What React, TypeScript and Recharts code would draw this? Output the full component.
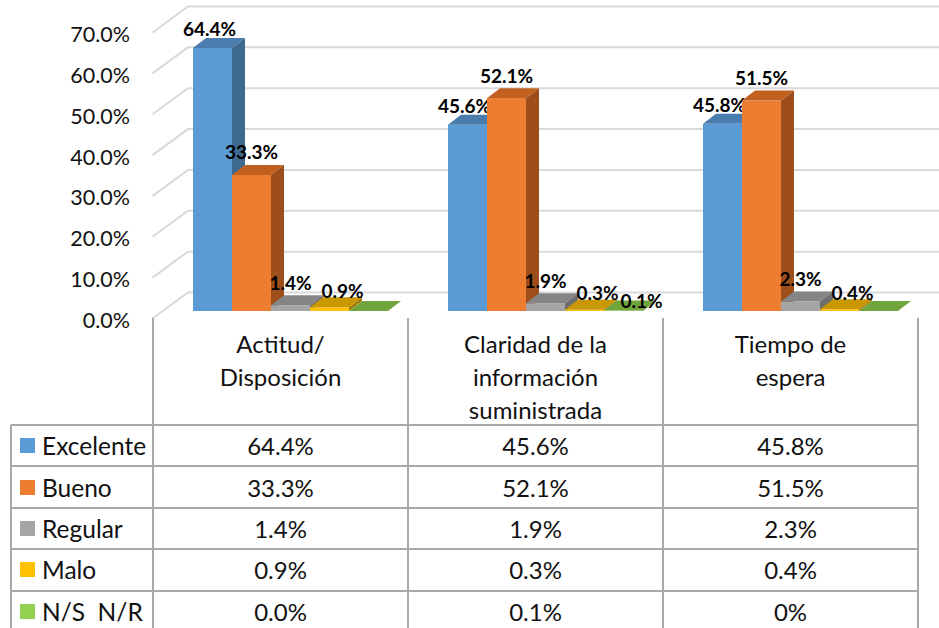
import React from "react";
import { BarChart, Bar, XAxis, YAxis, CartesianGrid } from "recharts";

// categories / series values
const categories = ["Actitud/ Disposición", "Claridad de la información suministrada", "Tiempo de espera"];
const categoryLines = [["Actitud/", "Disposición"], ["Claridad de la", "información", "suministrada"], ["Tiempo de", "espera"]];
const excelente = [0.644, 0.456, 0.458];
const bueno = [0.333, 0.521, 0.515];
const regular = [0.014, 0.019, 0.023];
const malo = [0.009, 0.003, 0.004];
const nsnr = [0.0, 0.001, 0.0];
const nsnrText = ["0.0%", "0.1%", "0%"];
const yTicks = [0, 0.1, 0.2, 0.3, 0.4, 0.5, 0.6, 0.7];

const FONT = "Lato, 'Open Sans', sans-serif";
const DX = 13;
const DY = 10;
const SHIFT = 10;
const ROW_TOP = 425;
const ROW_H = 41.4;

const pct = (v: number) => (v * 100).toFixed(1) + "%";

const series = [
  { key: "exc", name: "Excelente", values: excelente, text: excelente.map(pct), front: "#5B9BD5", top: "#4A7DAE", side: "#3E6990", ldx: -3, ldy: -19 },
  { key: "bue", name: "Bueno", values: bueno, text: bueno.map(pct), front: "#ED7D31", top: "#C2601F", side: "#9E4E1B", ldx: 0, ldy: -23 },
  { key: "reg", name: "Regular", values: regular, text: regular.map(pct), front: "#A5A5A5", top: "#858585", side: "#6E6E6E", ldx: 0, ldy: -23 },
  { key: "mal", name: "Malo", values: malo, text: malo.map(pct), front: "#FFC000", top: "#C99700", side: "#A67C00", ldx: 13, ldy: -17 },
  { key: "nsr", name: "N/S  N/R", values: nsnr, text: nsnrText, front: "#92D050", top: "#70A43C", side: "#5C8A30", ldx: 18, ldy: -10 },
];

const data = categories.map((name, i) => {
  const row: any = { name };
  series.forEach((s) => (row[s.key] = s.values[i]));
  return row;
});

const makeShape = (s: any) => (p: any) => {
  const X = p.x + SHIFT;
  const w = p.width;
  const Y = p.y;
  const h = Math.max(p.height || 0, 0);
  const v = p.payload ? p.payload[s.key] : 0;
  return (
    <g>
      <rect x={X} y={Y} width={w} height={h} fill={s.front} />
      <polygon points={`${X},${Y} ${X + DX},${Y - DY} ${X + w + DX},${Y - DY} ${X + w},${Y}`} fill={s.top} />
      <polygon points={`${X + w},${Y} ${X + w + DX},${Y - DY} ${X + w + DX},${Y + h - DY} ${X + w},${Y + h}`} fill={s.side} />
      {v > 0 && (
        <text x={X + w / 2 + s.ldx} y={Y + s.ldy} textAnchor="middle" dominantBaseline="central" fontFamily={FONT} fontWeight="bold" fontSize={19} fill="#000">
          {pct(v)}
        </text>
      )}
    </g>
  );
};

const gridLine = (p: any) => {
  const y = p.y1;
  return <path key={p.key} d={`M152.5 ${y + 7.5} L188 ${y - 18.5} L939 ${y - 18.5}`} stroke="#d9d9d9" strokeWidth={2} fill="none" />;
};

const YTick = (p: any) => (
  <text x={130} y={p.y + 9} textAnchor="end" dominantBaseline="central" fontFamily={FONT} fontSize={21.5} fill="#111">
    {pct(p.payload.value)}
  </text>
);

const CatTick = (p: any) => {
  const i = p.index;
  return (
    <g fontFamily={FONT} fontSize={24} fill="#111" textAnchor="middle">
      {categoryLines[i].map((l, k) => (
        <text key={k} x={p.x} y={343 + k * 33} dominantBaseline="central">{l}</text>
      ))}
      {series.map((s, r) => (
        <text key={s.key} x={p.x} y={ROW_TOP + r * ROW_H + ROW_H / 2} dominantBaseline="central">{s.text[i]}</text>
      ))}
    </g>
  );
};

const LINE = "#a8a8a8";

export default function App() {
  return (
    <div style={{ position: "absolute", left: 0, top: 0, width: 939, height: 628, background: "#fff", fontFamily: FONT, overflow: "hidden" }}>
      <BarChart width={939} height={628} data={data} margin={{ top: 25, right: 21, bottom: 287, left: 0 }} barGap={0}>
        <CartesianGrid horizontal={gridLine} vertical={false} />
        <YAxis type="number" domain={[0, 0.7]} ticks={yTicks} width={153} axisLine={false} tickLine={false} tick={YTick} />
        <XAxis dataKey="name" height={30} axisLine={false} tickLine={false} interval={0} tick={CatTick} />
        {series.map((s) => (
          <Bar key={s.key} dataKey={s.key} name={s.name} barSize={39} shape={makeShape(s)} isAnimationActive={false} />
        ))}
      </BarChart>
      {/* data table grid + legend keys */}
      <div style={{ position: "absolute", left: 0, top: 0, width: 939, height: 628, pointerEvents: "none" }}>
        {[0, 1, 2, 3, 4].map((r) => (
          <div key={r} style={{ position: "absolute", left: 11, top: ROW_TOP + r * ROW_H - 1, width: 908, height: 2, background: LINE }} />
        ))}
        <div style={{ position: "absolute", left: 10, top: ROW_TOP, width: 2, height: 210, background: LINE }} />
        {[152, 407, 662, 917].map((x) => (
          <div key={x} style={{ position: "absolute", left: x, top: 318, width: 2, height: 320, background: LINE }} />
        ))}
        {series.map((s, r) => (
          <div key={s.key} style={{ position: "absolute", left: 20, top: ROW_TOP + r * ROW_H, height: ROW_H, display: "flex", alignItems: "center" }}>
            <span style={{ width: 15, height: 15, background: s.front, display: "inline-block", marginRight: 7 }} />
            <span style={{ fontSize: 24.5, color: "#111", whiteSpace: "pre" }}>{s.name}</span>
          </div>
        ))}
      </div>
    </div>
  );
}
